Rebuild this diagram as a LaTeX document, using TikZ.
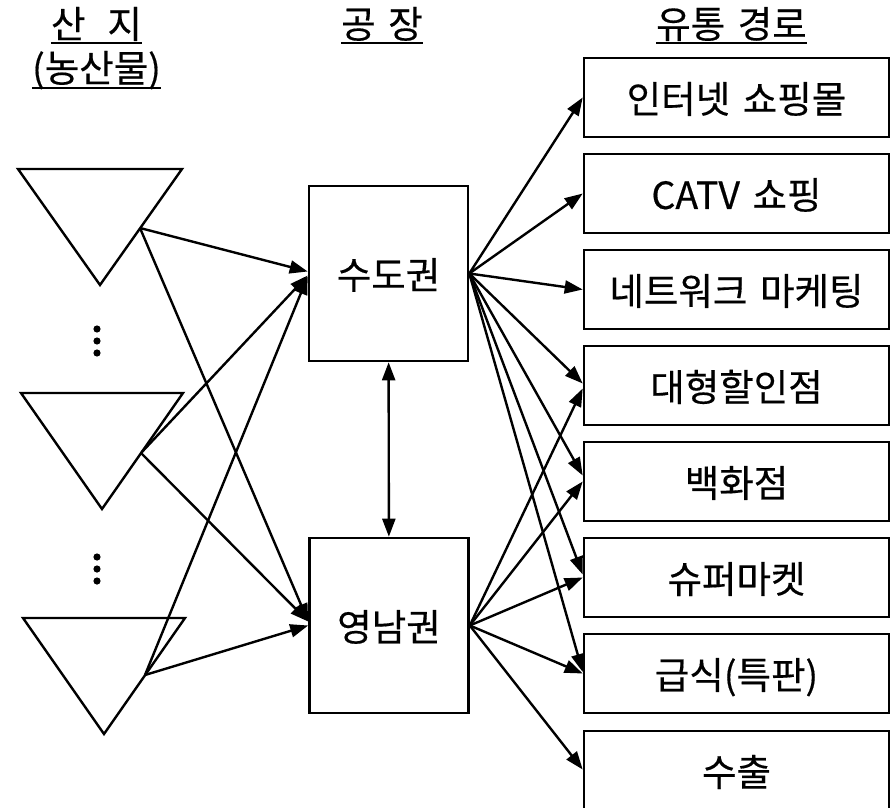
\documentclass[tikz,border=0pt]{standalone}
\usepackage{fontspec}
\setmainfont{Noto Sans CJK KR}[WordSpace=1.5,FakeBold=0.4]
\usetikzlibrary{arrows.meta}

\begin{document}
\begin{tikzpicture}[x=1pt,y=-1pt,
  every node/.style={font=\fontsize{37.5}{44}\selectfont},
  stage/.style={draw,line width=2.6pt,minimum width=159pt,minimum height=175pt,inner sep=0pt},
  outlet/.style={draw,line width=2.6pt,minimum width=305pt,minimum height=79pt,inner sep=0pt,text depth=-4pt},
  head/.style={anchor=base,inner sep=0pt},
  uline/.style={line width=2.2pt},
  flow/.style={line width=2.4pt,-{Triangle[length=18pt,width=13pt]}},
  both/.style={line width=2.4pt,{Triangle[length=18pt,width=13pt]}-{Triangle[length=18pt,width=13pt]}},
  field/.style={line width=2.4pt,line join=miter}]
\clip (0,0) rectangle (895,808);

% column headings
\node[head] (h1) at (96.5,38) {산\hspace{0.25em} 지};
\node[head] (h2) at (96.5,82) {(농산물)};
\node[head] (h3) at (382,38) {공 장};
\node[head] (h4) at (731.5,38) {유통 경로};
\foreach \h in {h1,h3,h4}
  \draw[uline] ([yshift=-5pt]\h.base west) -- ([yshift=-5pt]\h.base east);
\draw[uline] ([yshift=-6pt]h2.base west) -- ([yshift=-6pt]h2.base east);

% producing areas
\draw[field] (18,169) -- (182,169) -- (100,285) -- cycle;
\draw[field] (21,393) -- (183,393) -- (102,509) -- cycle;
\draw[field] (23,618) -- (185,618) -- (104,734) -- cycle;
\coordinate (t1) at (140,228);
\coordinate (t2) at (141,453);
\coordinate (t3) at (145,675);
\foreach \y in {329,341,353,557,569,581}
  \fill (97,\y) circle (3.6pt);

% factories
\node[stage,text depth=-4pt] (sudo) at (388.5,273.5) {수도권};
\node[stage,text depth=-4pt] (yeong) at (389,625.5) {영남권};

% distribution channels
\node[outlet] (r1) at (736.5,97.5) {인터넷 쇼핑몰};
\node[outlet] (r2) at (736.5,193.5) {CATV 쇼핑};
\node[outlet] (r3) at (736.5,289.5) {네트워크 마케팅};
\node[outlet] (r4) at (736.5,385.5) {대형할인점};
\node[outlet] (r5) at (736.5,481.5) {백화점};
\node[outlet] (r6) at (736.5,577.5) {슈퍼마켓};
\node[outlet] (r7) at (736.5,673.5) {급식(특판)};
\node[outlet] (r8) at (736.5,770.5) {수출};

% areas to factories
\draw[flow] (t1) -- ([yshift=2pt]sudo.west);
\draw[flow] (t1) -- ([yshift=4pt]yeong.west);
\draw[flow] (t2) -- ([yshift=-2pt]sudo.west);
\draw[flow] (t2) -- ([yshift=4pt]yeong.west);
\draw[flow] (t3) -- ([yshift=-3pt]sudo.west);
\draw[flow] (t3) -- ([yshift=0pt]yeong.west);

% between factories
\draw[both] (sudo) -- (yeong);

% factories to channels
\draw[flow] (sudo.east) -- (r1.west);
\draw[flow] (sudo.east) -- (r2.west);
\draw[flow] (sudo.east) -- (r3.west);
\draw[flow] (sudo.east) -- ([yshift=2pt]r4.west);
\draw[flow] (sudo.east) -- ([yshift=6pt]r5.west);
\draw[flow] (sudo.east) -- ([yshift=3pt]r6.west);
\draw[flow] (sudo.east) -- ([yshift=1.5pt]r7.west);
\draw[flow] (yeong.east) -- ([yshift=-3pt]r4.west);
\draw[flow] (yeong.east) -- ([yshift=0pt]r5.west);
\draw[flow] (yeong.east) -- ([yshift=0pt]r6.west);
\draw[flow] (yeong.east) -- ([yshift=0pt]r7.west);
\draw[flow] (yeong.east) -- ([yshift=1pt]r8.west);
\end{tikzpicture}
\end{document}
